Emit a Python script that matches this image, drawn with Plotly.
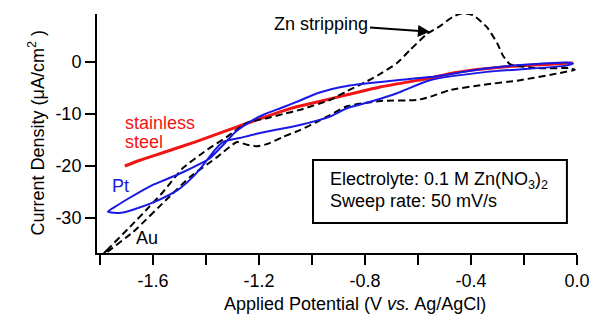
import plotly.graph_objects as go

# ---------------- data ----------------
# stainless steel (red)
steel_v = [-1.706, -1.649, -1.566, -1.442, -1.317, -1.189, -1.121, -1.064, -0.996,
           -0.868, -0.743, -0.555, -0.468, -0.279, -0.015]
steel_i = [-20.0, -18.9, -17.5, -15.4, -13.1, -10.8, -9.6, -8.7, -7.9,
           -6.3, -4.8, -3.1, -2.1, -0.96, -0.2]

# Pt (blue) closed loop
pt_v = [-1.770, -1.735, -1.694, -1.611, -1.566, -1.487, -1.423, -1.385, -1.336,
        -1.290, -1.234, -1.177, -1.109, -1.045, -0.980, -0.868, -0.679, -0.555,
        -0.340, -0.215, -0.040, -0.015,
        -0.040, -0.340, -0.555, -0.679, -0.770, -0.868, -0.932, -1.045, -1.121,
        -1.208, -1.272, -1.336, -1.366, -1.404, -1.442, -1.506, -1.585, -1.675,
        -1.720, -1.770]
pt_i = [-28.8, -27.6, -26.3, -23.9, -22.9, -21.2, -19.6, -18.5, -16.0,
        -13.5, -11.5, -10.0, -8.7, -7.4, -6.0, -4.6, -3.5, -2.9,
        -1.2, -0.6, -0.1, -0.3,
        -0.7, -1.9, -3.5, -6.0, -7.5, -8.9, -10.5, -12.1, -12.9,
        -13.8, -14.6, -15.4, -16.9, -19.4, -21.7, -24.6, -26.7, -28.4,
        -29.0, -28.8]

# Au (black dashed) closed loop
au_v = [-1.815, -1.774, -1.694, -1.611, -1.562, -1.487, -1.396, -1.321, -1.245,
        -1.170, -1.109, -1.045, -0.932, -0.868, -0.792, -0.736, -0.679, -0.630,
        -0.566, -0.517, -0.468, -0.430, -0.392, -0.340, -0.302, -0.279, -0.253,
        -0.151, -0.026, -0.008,
        -0.064, -0.215, -0.355, -0.479, -0.555, -0.604, -0.743, -0.868, -0.932,
        -0.981, -1.045, -1.109, -1.170, -1.208, -1.245, -1.283, -1.358, -1.460,
        -1.536, -1.675, -1.774, -1.815]
au_i = [-38.5, -36.2, -32.1, -27.7, -25.0, -20.4, -16.9, -14.4, -11.7,
        -10.8, -10.0, -9.2, -7.3, -5.6, -3.7, -2.1, -0.2, 2.3,
        5.4, 6.9, 8.7, 9.4, 9.0, 6.7, 3.7, 1.2, -0.4,
        -1.2, -1.2, -1.5,
        -2.1, -3.5, -4.4, -5.4, -6.7, -7.3, -7.5, -8.5, -10.2,
        -11.5, -13.1, -14.4, -15.8, -16.2, -15.9, -15.4, -18.3, -22.1,
        -25.8, -32.7, -36.6, -38.5]

x_tick_vals = [-1.6, -1.2, -0.8, -0.4, 0.0]
x_tick_labels = ["-1.6", "-1.2", "-0.8", "-0.4", "0.0"]
y_tick_vals = [-30, -20, -10, 0]
y_tick_labels = ["-30", "-20", "-10", "0"]

FONT = "Liberation Sans, Arial, Helvetica, sans-serif"
RED = "rgb(240,20,20)"
BLUE = "rgb(25,25,230)"

fig = go.Figure()
fig.add_trace(go.Scatter(x=steel_v, y=steel_i, mode="lines",
                         line=dict(color=RED, width=3, shape="spline", smoothing=0.6),
                         showlegend=False, hoverinfo="skip"))
fig.add_trace(go.Scatter(x=au_v, y=au_i, mode="lines",
                         line=dict(color="black", width=2, dash="7px,4px",
                                   shape="spline", smoothing=0.5),
                         showlegend=False, hoverinfo="skip"))
fig.add_trace(go.Scatter(x=pt_v, y=pt_i, mode="lines",
                         line=dict(color=BLUE, width=2, shape="spline", smoothing=0.6),
                         showlegend=False, hoverinfo="skip"))

axis_common = dict(showline=True, linecolor="black", linewidth=2, ticks="outside",
                   ticklen=10, tickwidth=2, tickcolor="black", showgrid=False,
                   zeroline=False, mirror=False, automargin=False,
                   tickfont=dict(family=FONT, size=18, color="black"))

# page body has an 8px margin, so the figure is 8px smaller than the window
fig.update_layout(
    width=594, height=312,
    margin=dict(l=89, r=25, t=6, b=67),
    paper_bgcolor="white", plot_bgcolor="white",
    template="none",
    font=dict(family=FONT, size=18, color="black"),
    xaxis=dict(range=[-1.811, 0.0], tickmode="array", tickvals=x_tick_vals,
               ticktext=x_tick_labels,
               minor=dict(dtick=0.2, tick0=0, ticks="outside", ticklen=10,
                          tickwidth=2, tickcolor="black", showgrid=False),
               **axis_common),
    yaxis=dict(range=[-36.73, 9.23], tickmode="array", tickvals=y_tick_vals,
               ticktext=y_tick_labels, **axis_common),
)

ann = []
# axis titles
ann.append(dict(xref="paper", yref="paper", x=0.5375, y=-0.213,
                text="Applied Potential (V <i>vs.</i> Ag/AgCl)",
                showarrow=False, xanchor="center", yanchor="middle",
                font=dict(family=FONT, size=18, color="black")))
ann.append(dict(xref="paper", yref="paper", x=-0.125, y=0.5,
                text="Current Density (μA/cm<sup>2</sup> )", textangle=-90,
                showarrow=False, xanchor="center", yanchor="middle",
                font=dict(family=FONT, size=18, color="black")))
# curve labels
ann.append(dict(x=-1.713, y=-11.7, text="stainless", showarrow=False,
                xanchor="left", yanchor="middle",
                font=dict(family=FONT, size=18, color=RED)))
ann.append(dict(x=-1.713, y=-15.4, text="steel", showarrow=False,
                xanchor="left", yanchor="middle",
                font=dict(family=FONT, size=18, color=RED)))
ann.append(dict(x=-1.762, y=-23.8, text="Pt", showarrow=False,
                xanchor="left", yanchor="middle",
                font=dict(family=FONT, size=18, color=BLUE)))
ann.append(dict(x=-1.67, y=-33.8, text="Au", showarrow=False,
                xanchor="left", yanchor="middle",
                font=dict(family=FONT, size=18, color="black")))
# Zn stripping with arrow
ann.append(dict(x=-0.555, y=5.8, ax=-0.964, ay=7.3, axref="x", ayref="y",
                text="Zn stripping", showarrow=True, arrowhead=2, arrowsize=1.2,
                arrowwidth=2, arrowcolor="black",
                font=dict(family=FONT, size=18, color="black")))
# box text
ann.append(dict(xref="paper", yref="paper", x=0.481, y=0.305,
                text="Electrolyte: 0.1 M Zn(NO<sub>3</sub>)<sub>2</sub>",
                showarrow=False, xanchor="left", yanchor="middle",
                font=dict(family=FONT, size=18, color="black")))
ann.append(dict(xref="paper", yref="paper", x=0.481, y=0.2176,
                text="Sweep rate: 50 mV/s",
                showarrow=False, xanchor="left", yanchor="middle",
                font=dict(family=FONT, size=18, color="black")))
fig.update_layout(annotations=ann)

fig.add_shape(type="rect", xref="paper", yref="paper",
              x0=0.45, x1=0.979, y0=0.1255, y1=0.389,
              line=dict(color="black", width=2), fillcolor="white", layer="above")

fig.write_html("out.html")
